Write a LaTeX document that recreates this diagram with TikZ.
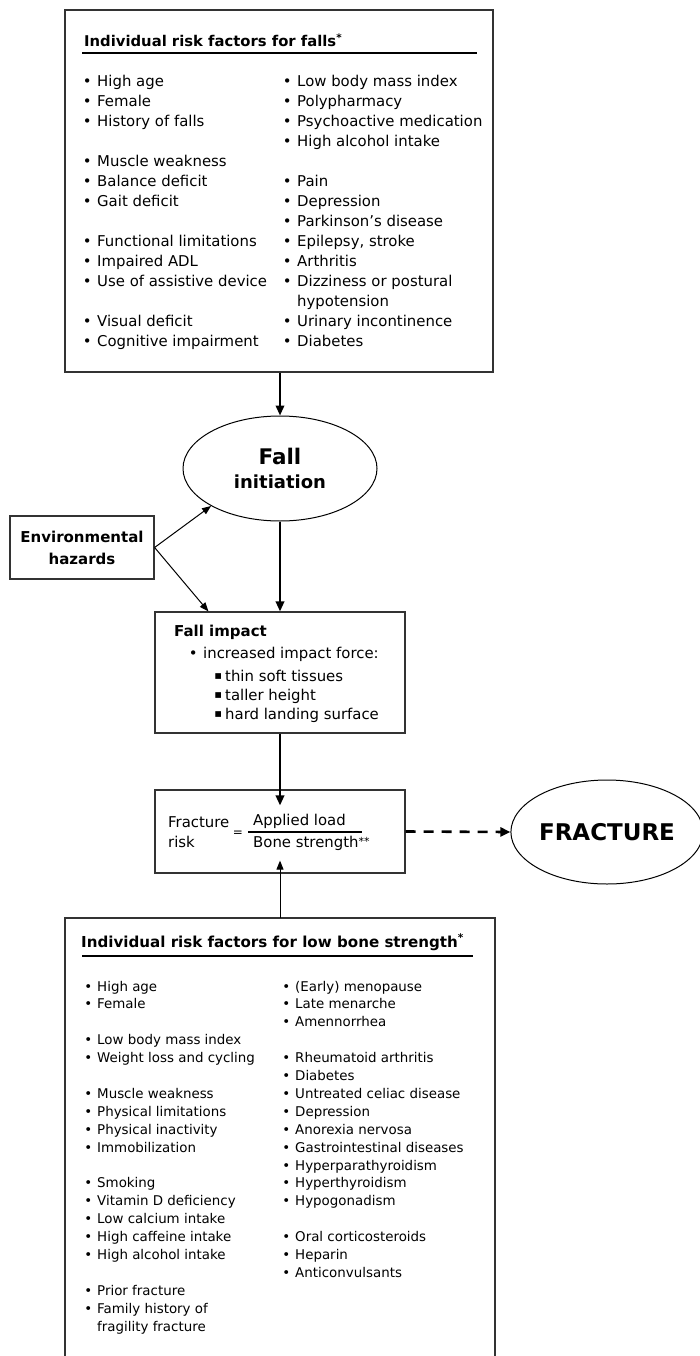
\documentclass[tikz,border=0pt]{standalone}
\usepackage{fontspec}
\setmainfont{DejaVu Sans}
\usetikzlibrary{shapes.geometric,arrows.meta}
\newcommand{\bpt}{\llap{•\hspace{5.5pt}}}
\newcommand{\bpb}{\llap{•\hspace{5pt}}}
\newcommand{\sqb}{\llap{\raisebox{1.2pt}{\fontsize{11.5}{12}\selectfont ▪}\hspace{3pt}}}
\begin{document}
\begin{tikzpicture}[x=1pt,y=-1pt,
  boxline/.style={draw=black!80, line width=1.2pt},
  toptxt/.style={anchor=base west, inner sep=0pt, font=\fontsize{14.9}{20}\selectfont},
  bottxt/.style={anchor=base west, inner sep=0pt, font=\fontsize{13.4}{18}\selectfont},
  titletxt/.style={anchor=base west, inner sep=0pt, font=\fontsize{14.8}{18}\selectfont\bfseries},
  mainarrow/.style={line width=2pt, -{Triangle[length=10pt,width=8.5pt]}},
  thinarrow/.style={line width=1pt, -{Triangle[length=9pt,width=7pt]}},
  dasharrow/.style={line width=2.6pt, dash pattern=on 10pt off 8pt, -{Triangle[length=10pt,width=9pt]}}]
\useasboundingbox (0,0) rectangle (700,1356);
\fill[white] (0,0) rectangle (700,1356);

% ---------- top box ----------
\node[boxline, minimum width=428pt, minimum height=362pt, inner sep=0pt] (topbox) at (279,191) {};
\node[titletxt] (ttop) at (84,47) {Individual risk factors for falls\textsuperscript{*}};
\draw[line width=2pt] (82,53) -- (477,53);
\foreach \r/\t in {0/{\bpt High age},1/{\bpt Female},2/{\bpt History of falls},
  4/{\bpt Muscle weakness},5/{\bpt Balance deficit},6/{\bpt Gait deficit},
  8/{\bpt Functional limitations},9/{\bpt Impaired ADL},10/{\bpt Use of assistive device},
  12/{\bpt Visual deficit},13/{\bpt Cognitive impairment}}
  \node[toptxt] (tl\r) at (97,86.5+20*\r) {\t};
\foreach \r/\t in {0/{\bpt Low body mass index},1/{\bpt Polypharmacy},2/{\bpt Psychoactive medication},
  3/{\bpt High alcohol intake},5/{\bpt Pain},6/{\bpt Depression},7/{\bpt Parkinson’s disease},
  8/{\bpt Epilepsy, stroke},9/{\bpt Arthritis},10/{\bpt Dizziness or postural},
  11/{hypotension},12/{\bpt Urinary incontinence},13/{\bpt Diabetes}}
  \node[toptxt] (tr\r) at (297,86.5+20*\r) {\t};

% ---------- fall initiation ----------
\node[ellipse, draw, line width=1pt, minimum width=194pt, minimum height=105pt, inner sep=0pt] (fi) at (280,468.5) {};
\node[anchor=base, inner sep=0pt, font=\fontsize{21.5}{24}\selectfont\bfseries] (fi1) at (280,464) {Fall};
\node[anchor=base, inner sep=0pt, font=\fontsize{18}{22}\selectfont\bfseries] (fi2) at (280,488) {initiation};

% ---------- environmental hazards ----------
\node[boxline, minimum width=144pt, minimum height=63pt, inner sep=0pt, align=center,
  font=\fontsize{15}{22}\selectfont\bfseries] (env) at (82,547.5) {Environmental\\hazards};

% ---------- fall impact ----------
\node[boxline, minimum width=250pt, minimum height=121pt, inner sep=0pt] (fimp) at (280,672.5) {};
\node[titletxt, font=\fontsize{15}{18}\selectfont\bfseries] (fimpt) at (174,636) {Fall impact};
\node[toptxt] (fimp1) at (203,658) {\bpt increased impact force:};
\node[toptxt] (fimp2) at (225,681) {\sqb thin soft tissues};
\node[toptxt] (fimp3) at (225,700) {\sqb taller height};
\node[toptxt] (fimp4) at (225,719) {\sqb hard landing surface};

% ---------- fracture risk ----------
\node[boxline, minimum width=250pt, minimum height=83pt, inner sep=0pt] (frac) at (280,831.5) {};
\node[toptxt] (fr1) at (168,827) {Fracture};
\node[toptxt] (fr2) at (168,847) {risk};
\node[inner sep=0pt, font=\fontsize{12}{14}\selectfont] (freq) at (238,834) {=};
\draw[line width=1.6pt] (248,832) -- (362,832);
\node[toptxt] (fnum) at (253,825) {Applied load};
\node[toptxt] (fden) at (253,847) {Bone strength\raisebox{2pt}{\fontsize{11}{12}\selectfont **}};

% ---------- FRACTURE ----------
\node[ellipse, draw, line width=1pt, minimum width=184pt, minimum height=104pt, inner sep=0pt,
  font=\fontsize{23}{26}\selectfont\bfseries] (fr) at (607,832) {FRACTURE};

% ---------- bottom box ----------
\draw[boxline] (65,1356) -- (65,918) -- (495,918) -- (495,1356);
\coordinate (bonetop) at (280,918);
\node[titletxt, font=\fontsize{15.1}{18}\selectfont\bfseries] (tbot) at (81,947) {Individual risk factors for low bone strength\textsuperscript{*}};
\draw[line width=2pt] (82,956) -- (473,956);
\foreach \r/\t in {0/{\bpb High age},1/{\bpb Female},3/{\bpb Low body mass index},
  4/{\bpb Weight loss and cycling},6/{\bpb Muscle weakness},7/{\bpb Physical limitations},
  8/{\bpb Physical inactivity},9/{\bpb Immobilization},11/{\bpb Smoking},
  12/{\bpb Vitamin D deficiency},13/{\bpb Low calcium intake},14/{\bpb High caffeine intake},
  15/{\bpb High alcohol intake},17/{\bpb Prior fracture},18/{\bpb Family history of},
  19/{fragility fracture}}
  \node[bottxt] (bl\r) at (97,991+17.9*\r) {\t};
\foreach \r/\t in {0/{\bpb (Early) menopause},1/{\bpb Late menarche},2/{\bpb Amennorrhea},
  4/{\bpb Rheumatoid arthritis},5/{\bpb Diabetes},6/{\bpb Untreated celiac disease},
  7/{\bpb Depression},8/{\bpb Anorexia nervosa},9/{\bpb Gastrointestinal diseases},
  10/{\bpb Hyperparathyroidism},11/{\bpb Hyperthyroidism},12/{\bpb Hypogonadism},
  14/{\bpb Oral corticosteroids},15/{\bpb Heparin},16/{\bpb Anticonvulsants}}
  \node[bottxt] (br\r) at (295,991+17.9*\r) {\t};

% ---------- connectors ----------
\draw[mainarrow] (topbox.south -| fi.north) -- (fi.north);
\draw[mainarrow] (fi.south) -- (fimp.north);
\draw[mainarrow] (fimp.south) -- ([yshift=-16pt]frac.north);
\draw[thinarrow] (env.east) -- (fi.south west);
\draw[thinarrow] (env.east) -- ([xshift=54pt]fimp.north west);
\draw[thinarrow] (bonetop) -- ([yshift=13pt]frac.south);
\draw[dasharrow] (frac.east) -- (fr.west);
\end{tikzpicture}
\end{document}
